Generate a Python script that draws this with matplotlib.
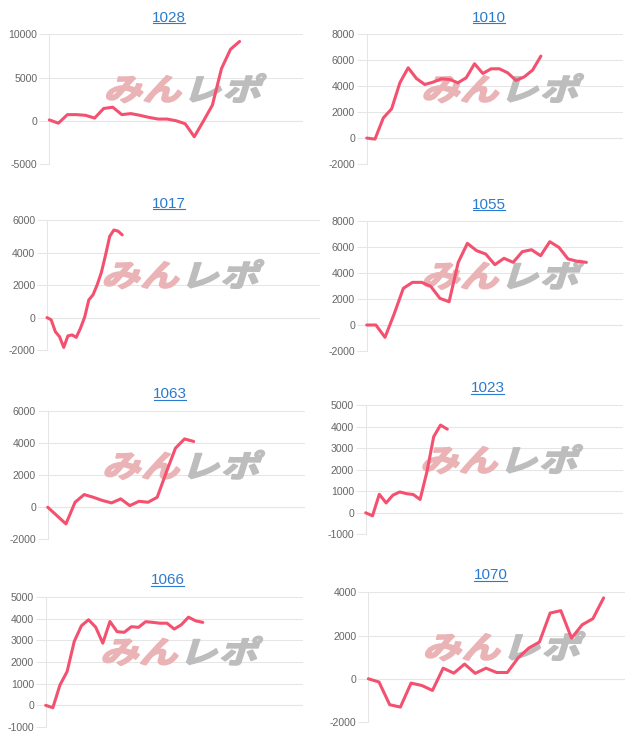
"""
Small multiples of cumulative balance per machine number (みんレポ style).
"""

import matplotlib
matplotlib.use('Agg')
import matplotlib.pyplot as plt
from matplotlib.lines import Line2D
from matplotlib.patheffects import AbstractPathEffect
from matplotlib.transforms import Affine2D

plt.rcParams['axes.unicode_minus'] = False

W, H = 640, 745

titles = ['1028', '1010', '1017', '1055', '1063', '1023', '1066', '1070']

values_1028 = [100, -280, 710, 710, 630, 310, 1420, 1570, 710, 830, 630, 390,
               200, 200, 0, -350, -1850, -50, 1810, 6020, 8270, 9170]
values_1010 = [0, -80, 1550, 2250, 4260, 5420, 4590, 4130, 4310, 4570, 4520,
               4260, 4650, 5730, 4980, 5340, 5340, 5030, 4440, 4720, 5240, 6320]
values_1017 = [0, -140, -870, -1180, -1840, -1130, -1070, -1220, -660, 20,
               1090, 1400, 2020, 2780, 3850, 5010, 5400, 5330, 5100]
values_1055 = [0, 0, -950, 850, 2820, 3280, 3280, 2970, 2050, 1790, 4820, 6280,
               5720, 5460, 4640, 5130, 4820, 5640, 5790, 5330, 6410, 5970, 5080,
               4900, 4820]
values_1063 = [0, -520, -1040, 310, 790, 620, 420, 270, 520, 100, 370, 310, 620,
               2180, 3680, 4260, 4100]
values_1023 = [0, -140, 860, 460, 820, 970, 890, 850, 620, 1900, 3540, 4080, 3890]
values_1066 = [0, -110, 940, 1560, 2950, 3670, 3950, 3610, 2870, 3870, 3400,
               3370, 3630, 3600, 3860, 3830, 3790, 3790, 3520, 3720, 4070, 3900,
               3830]
values_1070 = [0, -150, -1200, -1310, -200, -310, -540, 490, 260, 680, 250, 490,
               290, 290, 960, 1420, 1700, 3040, 3150, 1880, 2500, 2780, 3740]

series = [values_1028, values_1010, values_1017, values_1055,
          values_1063, values_1023, values_1066, values_1070]

# y axis range and tick step per panel
y_ranges = [(-5000, 10000, 5000), (-2000, 8000, 2000), (-2000, 6000, 2000),
            (-2000, 8000, 2000), (-2000, 6000, 2000), (-1000, 5000, 1000),
            (-1000, 5000, 1000), (-2000, 4000, 2000)]
# number of category slots shown on the x axis
x_spans = [28.0, 30.9, 65.3, 28.0, 28.2, 37.8, 36.0, 24.0]

# plot area boxes in pixels: left, right, top, bottom
boxes = [(49.3, 303, 34.3, 164), (366.7, 623, 34.3, 164),
         (47, 320, 220.3, 350), (366.7, 623, 221, 351),
         (47.7, 305, 411, 539.3), (365.7, 622.7, 405.3, 534.3),
         (45.7, 302.7, 597, 727), (368.3, 625, 592.3, 722)]
# title centre x and baseline y in pixels
title_pos = [(169, 21.7), (489, 21.7), (169, 207.7), (489, 208.7),
             (170, 398), (487.7, 392), (167.7, 584), (490.7, 579)]

LINE_COLOR = '#f3516f'
GRID_COLOR = '#e6e6e6'
ZERO_COLOR = '#c8c8c8'
LINK_COLOR = '#2a7bcf'


class SlantBold(AbstractPathEffect):
    """Slant, widen and thicken glyphs around a given display point."""

    def __init__(self, cx, cy, slant=14, xscale=1.25, lw=1.4):
        super().__init__()
        self.cx, self.cy = cx, cy
        self.slant, self.xscale, self.lw = slant, xscale, lw

    def draw_path(self, renderer, gc, tpath, affine, rgbFace=None):
        extra = (Affine2D().translate(-self.cx, -self.cy)
                 .skew_deg(self.slant, 0).scale(self.xscale, 1)
                 .translate(self.cx, self.cy))
        gc0 = renderer.new_gc()
        gc0.copy_properties(gc)
        gc0.set_linewidth(self.lw)
        gc0.set_foreground(rgbFace)
        renderer.draw_path(gc0, tpath, affine + extra, rgbFace)
        gc0.restore()


def px(x, y):
    """Convert image pixel coordinates to figure fraction."""
    return x / W, 1 - y / H


def draw_watermark(ax, left, top):
    """Draw the みんレポ logo behind the line."""
    chars = [('み', 76, '#eab3b5'), ('ん', 115, '#eab3b5'),
             ('レ', 155, '#bdbdbd'), ('ポ', 195, '#bdbdbd')]
    for ch, dx, color in chars:
        cx, cy = left + dx, top + 57
        fx, fy = px(cx, cy)
        ax.text(fx, fy, ch, transform=ax.figure.transFigure, ha='center',
                va='center', fontsize=22, fontweight='bold', color=color,
                family=['Noto Sans CJK JP', 'DejaVu Sans'], zorder=1,
                clip_on=False,
                path_effects=[SlantBold(cx, H - cy)])


def plot_panels(save_path='out.png'):
    fig = plt.figure(figsize=(W / 100, H / 100), dpi=100)
    title_texts = []

    for i, values in enumerate(series):
        left, right, top, bottom = boxes[i]
        x0, y0 = px(left, bottom)
        ax = fig.add_axes([x0, y0, (right - left) / W, (bottom - top) / H])
        ymin, ymax, step = y_ranges[i]

        ax.set_xlim(0, x_spans[i])
        ax.set_ylim(ymin, ymax)
        ax.set_yticks(range(ymin, ymax + 1, step))
        ax.set_xticks([])

        ax.grid(axis='y', color=GRID_COLOR, linewidth=0.75, zorder=0)
        ax.axhline(0, color=ZERO_COLOR, linewidth=0.75, zorder=0.5)
        for side in ['top', 'right', 'bottom']:
            ax.spines[side].set_visible(False)
        ax.spines['left'].set_color(GRID_COLOR)
        ax.spines['left'].set_linewidth(0.75)
        ax.tick_params(axis='y', length=7, width=0.75, color=GRID_COLOR,
                       pad=1.5, labelsize=7.6, labelcolor='#666666')
        for lab in ax.get_yticklabels():
            lab.set_family('Liberation Sans')
        ax.set_axisbelow(True)

        draw_watermark(ax, left, top)

        ax.plot(range(len(values)), values, color=LINE_COLOR, linewidth=2.2,
                solid_joinstyle='round', solid_capstyle='round', zorder=3,
                clip_on=False)

        tx, ty = title_pos[i]
        fx, fy = px(tx, ty)
        t = fig.text(fx, fy, titles[i], ha='center', va='baseline',
                     fontsize=11, color=LINK_COLOR, family='Liberation Sans')
        title_texts.append((t, ty))

    # underline the titles like links
    fig.canvas.draw()
    renderer = fig.canvas.get_renderer()
    for t, ty in title_texts:
        bb = t.get_window_extent(renderer)
        yline = 1 - (ty + 1.5) / H
        fig.add_artist(Line2D([(bb.x0 + 0.5) / W, (bb.x1 - 1.0) / W],
                              [yline, yline],
                              color=LINK_COLOR, linewidth=0.8))

    fig.savefig(save_path, dpi=100)


if __name__ == "__main__":
    plot_panels()
